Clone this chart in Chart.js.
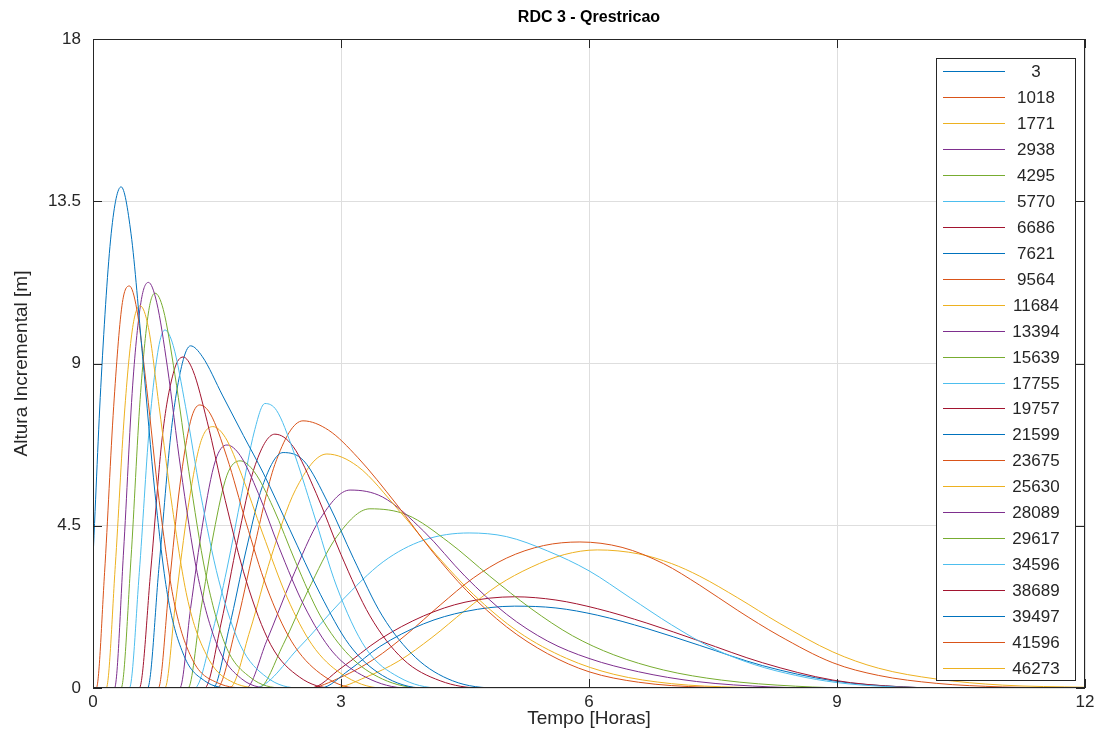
<!DOCTYPE html>
<html>
<head>
<meta charset="utf-8">
<script src="https://cdn.jsdelivr.net/npm/chart.js@4.4.0/dist/chart.umd.min.js"></script>
<style>
body{margin:0;background:#fff}
</style>
</head>
<body>
<canvas id="myChart" width="1104" height="756"></canvas>
<script>
// legend labels (vazao) and matlab default color order
const labels = ['3','1018','1771','2938','4295','5770','6686','7621','9564','11684','13394','15639',
  '17755','19757','21599','23675','25630','28089','29617','34596','38689','39497','41596','46273']
const colorOrder = ['#0072BD','#D95319','#EDB120','#7E2F8E','#77AC30','#4DBEEE','#A2142F']
const xTicks = [0,3,6,9,12]
const yTicks = [0,4.5,9,13.5,18]

// [tempo (h), altura (m)]
const q3 = [[0,3.6],[0.1,8.6],[0.22,12.6],[0.34,13.9],[0.46,12.6],[0.6,9.2],[0.75,5.4],[0.9,2.6],[1.1,0.9],[1.35,0.2],[1.7,0],[12,0]]
const q1018 = [[0,0],[0.04,0],[0.14,3.2],[0.25,7.8],[0.35,10.6],[0.44,11.15],[0.53,10.5],[0.65,8.3],[0.8,5.2],[0.98,2.4],[1.2,0.8],[1.5,0.15],[1.9,0],[12,0]]
const q1771 = [[0,0],[0.16,0],[0.27,3.4],[0.38,7.6],[0.48,10.0],[0.57,10.6],[0.67,10.0],[0.8,7.8],[0.96,5.0],[1.15,2.4],[1.4,0.8],[1.7,0.15],[2.1,0],[12,0]]
const q2938 = [[0,0],[0.26,0],[0.37,3.8],[0.48,8.4],[0.58,10.7],[0.67,11.25],[0.77,10.7],[0.9,8.9],[1.06,6.1],[1.26,3.2],[1.5,1.2],[1.8,0.25],[2.2,0],[12,0]]
const q4295 = [[0,0],[0.34,0],[0.46,3.6],[0.57,8.0],[0.67,10.4],[0.75,10.95],[0.85,10.5],[0.99,8.7],[1.16,6.0],[1.36,3.2],[1.6,1.2],[1.9,0.3],[2.3,0],[12,0]]
const q5770 = [[0,0],[0.44,0],[0.56,3.2],[0.68,7.2],[0.79,9.4],[0.87,9.93],[0.97,9.5],[1.12,7.8],[1.3,5.4],[1.52,3.0],[1.78,1.2],[2.1,0.3],[2.5,0],[12,0]]
const q6686 = [[0,0],[0.56,0],[0.7,3.3],[0.84,7.0],[0.98,8.8],[1.09,9.18],[1.21,8.8],[1.38,7.4],[1.6,5.2],[1.85,3.0],[2.15,1.2],[2.5,0.3],[2.9,0],[12,0]]
const q7621 = [[0,0],[0.66,0],[0.8,3.4],[0.95,7.2],[1.08,9.0],[1.18,9.49],[1.32,9.2],[1.57,8.1],[1.82,7.0],[2.06,5.96],[2.38,4.4],[2.75,2.6],[3.1,1.2],[3.5,0.35],[4.0,0],[12,0]]
const q9564 = [[0,0],[0.79,0],[0.92,2.8],[1.05,5.6],[1.18,7.4],[1.29,7.85],[1.42,7.6],[1.62,6.4],[1.85,4.6],[2.1,2.8],[2.4,1.3],[2.75,0.4],[3.2,0],[12,0]]
const q11684 = [[0,0],[0.87,0],[1.0,2.4],[1.15,5.0],[1.3,6.8],[1.45,7.25],[1.6,6.95],[1.8,5.9],[2.05,4.3],[2.35,2.5],[2.65,1.2],[3.0,0.4],[3.5,0],[12,0]]
const q13394 = [[0,0],[1.05,0],[1.18,2.2],[1.33,4.6],[1.48,6.3],[1.62,6.74],[1.78,6.45],[2.0,5.4],[2.25,3.9],[2.55,2.3],[2.9,1.0],[3.3,0.3],[3.8,0],[12,0]]
const q15639 = [[0,0],[1.15,0],[1.3,2.1],[1.46,4.3],[1.62,5.9],[1.78,6.3],[1.95,6.0],[2.18,5.0],[2.45,3.5],[2.75,2.0],[3.1,0.9],[3.5,0.25],[4.0,0],[12,0]]
const q17755 = [[0,0],[1.23,0],[1.45,1.6],[1.62,3.3],[1.8,5.4],[1.95,7.1],[2.08,7.89],[2.22,7.7],[2.42,6.6],[2.66,4.9],[2.95,2.8],[3.3,1.1],[3.7,0.3],[4.2,0],[12,0]]
const q19757 = [[0,0],[1.35,0],[1.55,1.8],[1.75,4.1],[1.95,6.1],[2.2,7.04],[2.42,6.7],[2.7,5.4],[3.0,3.7],[3.35,2.0],[3.75,0.8],[4.2,0.2],[4.7,0],[12,0]]
const q21599 = [[0,0],[1.45,0],[1.65,1.7],[1.85,3.8],[2.05,5.6],[2.3,6.53],[2.55,6.3],[2.85,5.1],[3.15,3.6],[3.5,2.0],[3.9,0.85],[4.35,0.2],[4.9,0],[12,0]]
const q23675 = [[0,0],[1.5,0],[1.72,1.6],[1.95,3.9],[2.2,6.2],[2.54,7.41],[2.85,7.15],[3.2,6.4],[3.67,5.1],[4.1,3.8],[4.52,2.7],[5.0,1.7],[5.5,0.95],[6.0,0.45],[6.6,0.16],[7.4,0.02],[8,0],[12,0]]
const q25630 = [[0,0],[1.65,0],[1.9,1.6],[2.15,3.6],[2.45,5.5],[2.83,6.49],[3.2,6.15],[3.71,4.9],[4.15,3.7],[4.6,2.6],[5.15,1.55],[5.73,0.82],[6.3,0.38],[7.0,0.12],[7.8,0.02],[8.5,0],[12,0]]
const q28089 = [[0,0],[1.85,0],[2.1,1.3],[2.4,3.0],[2.75,4.7],[3.11,5.49],[3.5,5.3],[4.0,4.35],[4.5,3.1],[5.0,2.05],[5.5,1.3],[6.0,0.82],[6.6,0.45],[7.3,0.18],[8.2,0.03],[9,0],[12,0]]
const q29617 = [[0,0],[2.0,0],[2.3,1.2],[2.6,2.7],[2.95,4.2],[3.35,4.97],[3.8,4.8],[4.3,4.05],[4.8,3.1],[5.3,2.2],[5.8,1.45],[6.3,0.92],[6.9,0.5],[7.6,0.22],[8.5,0.05],[9.3,0],[12,0]]
const q34596 = [[0,0],[1.95,0],[2.5,1.14],[3.0,2.4],[3.51,3.5],[4.0,4.1],[4.55,4.3],[5.0,4.2],[5.5,3.8],[6.0,3.25],[6.5,2.5],[7.0,1.75],[7.5,1.1],[8.0,0.65],[8.5,0.35],[9.0,0.15],[9.6,0.04],[10.3,0],[12,0]]
const q38689 = [[0,0],[2.63,0],[3.0,0.55],[3.47,1.35],[4.0,2.0],[4.5,2.38],[5.1,2.53],[5.6,2.44],[6.1,2.2],[6.7,1.8],[7.34,1.3],[8.1,0.7],[8.95,0.22],[9.8,0.03],[10.5,0],[12,0]]
const q39497 = [[0,0],[2.75,0],[3.1,0.5],[3.47,1.15],[4.0,1.78],[4.5,2.12],[5.1,2.27],[5.6,2.22],[6.1,2.02],[6.7,1.65],[7.34,1.18],[8.1,0.62],[8.95,0.2],[9.8,0.03],[10.5,0],[12,0]]
const q41596 = [[0,0],[2.6,0],[3.0,0.3],[3.4,0.8],[3.8,1.5],[4.2,2.3],[4.6,3.05],[5.0,3.6],[5.45,3.95],[5.89,4.05],[6.4,3.9],[6.9,3.45],[7.34,2.85],[7.8,2.15],[8.3,1.45],[8.95,0.7],[9.5,0.35],[10.2,0.13],[11,0.03],[12,0]]
const q46273 = [[0,0],[2.9,0],[3.3,0.3],[3.7,0.75],[4.1,1.4],[4.5,2.15],[4.9,2.85],[5.3,3.35],[5.7,3.7],[6.1,3.83],[6.6,3.72],[7.0,3.45],[7.34,3.1],[7.8,2.5],[8.3,1.8],[8.95,1.0],[9.5,0.55],[10.2,0.25],[11,0.08],[12,0.02]]

const series = [q3,q1018,q1771,q2938,q4295,q5770,q6686,q7621,q9564,q11684,q13394,q15639,
  q17755,q19757,q21599,q23675,q25630,q28089,q29617,q34596,q38689,q39497,q41596,q46273]

const fontName = '"Liberation Sans", Arial, sans-serif'
const dark = '#262626'

let datasets = series.map(function (s, i) {
    return {
        label: labels[i],
        data: s.map(p => ({x: p[0], y: p[1]})),
        borderColor: colorOrder[i % 7],
        backgroundColor: colorOrder[i % 7],
        borderWidth: 1,
        pointRadius: 0,
        fill: false,
        cubicInterpolationMode: 'monotone'
    }
})

// box, inward ticks, title and legend like matlab
const matlabLook = {
    id: 'matlabLook',
    afterDraw(chart) {
        const ctx = chart.ctx
        const a = chart.chartArea
        const xs = chart.scales.x, ys = chart.scales.y
        ctx.save()
        ctx.strokeStyle = dark
        ctx.lineWidth = 1
        ctx.strokeRect(a.left + 0.5, a.top + 0.5, a.right - a.left - 1, a.bottom - a.top - 1)
        ctx.beginPath()
        xTicks.forEach(v => {
            let px = Math.round(xs.getPixelForValue(v)) + 0.5
            ctx.moveTo(px, a.bottom); ctx.lineTo(px, a.bottom - 9)
            ctx.moveTo(px, a.top); ctx.lineTo(px, a.top + 9)
        })
        yTicks.forEach(v => {
            let py = Math.round(ys.getPixelForValue(v)) + 0.5
            ctx.moveTo(a.left, py); ctx.lineTo(a.left + 9, py)
            ctx.moveTo(a.right, py); ctx.lineTo(a.right - 9, py)
        })
        ctx.stroke()

        ctx.fillStyle = '#000'
        ctx.font = 'bold 16px ' + fontName
        ctx.textAlign = 'center'
        ctx.textBaseline = 'middle'
        ctx.fillText('RDC 3 - Qrestricao', (a.left + a.right) / 2, 18)

        // legend
        const lx = 936, ly = 58, lw = 139, lh = 622, step = 25.96
        ctx.fillStyle = '#fff'
        ctx.fillRect(lx, ly, lw, lh)
        ctx.strokeStyle = dark
        ctx.strokeRect(lx + 0.5, ly + 0.5, lw, lh)
        ctx.font = '17px ' + fontName
        labels.forEach((lab, i) => {
            let y = Math.round(ly + 13 + i * step) + 0.5
            ctx.strokeStyle = colorOrder[i % 7]
            ctx.beginPath()
            ctx.moveTo(943, y)
            ctx.lineTo(1005, y)
            ctx.stroke()
            ctx.fillStyle = dark
            ctx.fillText(lab, 1036, y + 1)
        })
        ctx.restore()
    }
}

new Chart(document.getElementById('myChart'), {
    type: 'line',
    data: {datasets: datasets},
    options: {
        responsive: false,
        animation: false,
        layout: {padding: {top: 39, right: 19, left: 0, bottom: 0}},
        plugins: {legend: {display: false}, tooltip: {enabled: false}},
        scales: {
            x: {
                type: 'linear', min: 0, max: 12,
                afterBuildTicks: s => { s.ticks = xTicks.map(v => ({value: v})) },
                afterFit: s => { s.height = 68 },
                border: {display: false},
                grid: {color: '#dedede', drawTicks: false},
                ticks: {color: dark, font: {family: fontName, size: 17}, padding: 4, maxRotation: 0},
                title: {display: true, text: 'Tempo [Horas]', color: dark,
                    font: {family: fontName, size: 19}, padding: {bottom: 26}}
            },
            y: {
                type: 'linear', min: 0, max: 18,
                afterBuildTicks: s => { s.ticks = yTicks.map(v => ({value: v})) },
                afterFit: s => { s.width = 93 },
                border: {display: false},
                grid: {color: '#dedede', drawTicks: false},
                ticks: {color: dark, font: {family: fontName, size: 17}, padding: 12},
                title: {display: true, text: 'Altura Incremental [m]', color: dark,
                    font: {family: fontName, size: 19}, padding: {top: 10}}
            }
        }
    },
    plugins: [matlabLook]
})
</script>
</body>
</html>
